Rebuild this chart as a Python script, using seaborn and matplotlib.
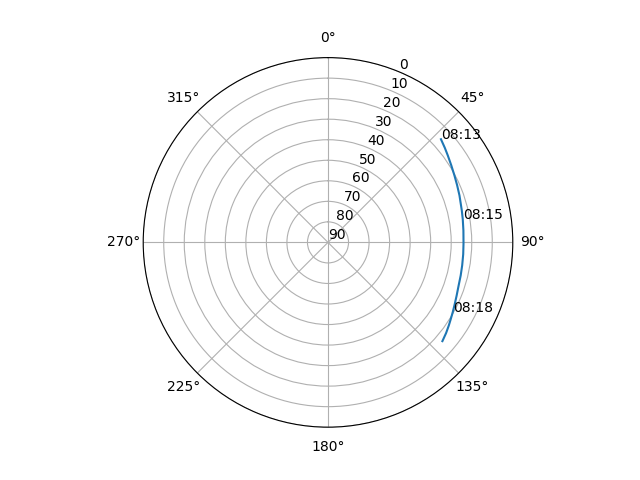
import numpy as np
import matplotlib
matplotlib.use("Agg")
import matplotlib.pyplot as plt
import seaborn as sns
import pandas as pd

azimuth_deg = [47.6, 51.0, 54.0, 58.0, 62.0, 66.0, 70.3, 76.5, 80.2, 85.0, 90.4,
               95.0, 99.7, 104.0, 108.3, 112.5, 116.5, 119.2, 122.0, 124.5, 127.5, 130.8]
elevation = [15.5, 16.8, 17.9, 19.2, 20.3, 21.2, 22.0, 23.0, 23.4, 23.8, 24.0,
             23.9, 23.7, 23.4, 23.0, 22.2, 21.2, 20.4, 19.5, 18.6, 17.5, 16.4]
time_labels = ["08:13", "08:15", "08:18"]
label_idx = [0, 8, 17]
r_ticks = list(range(0, 91, 10))

df = pd.DataFrame({"theta": np.deg2rad(azimuth_deg), "el": elevation})

fig = plt.figure(figsize=(6.4, 4.8), dpi=100)
ax = fig.add_subplot(111, projection="polar")
ax.set_theta_zero_location("N")
ax.set_theta_direction(-1)
sns.lineplot(data=df, x="theta", y="el", ax=ax, sort=False, color="C0", estimator=None)
for i, lab in zip(label_idx, time_labels):
    ax.text(df["theta"][i], df["el"][i], lab)
ax.set_ylim(90, 0)
ax.set_yticks(r_ticks)
ax.set_xlabel("")
ax.set_ylabel("")
ax.grid(True)
fig.savefig("out.png", dpi=100)
